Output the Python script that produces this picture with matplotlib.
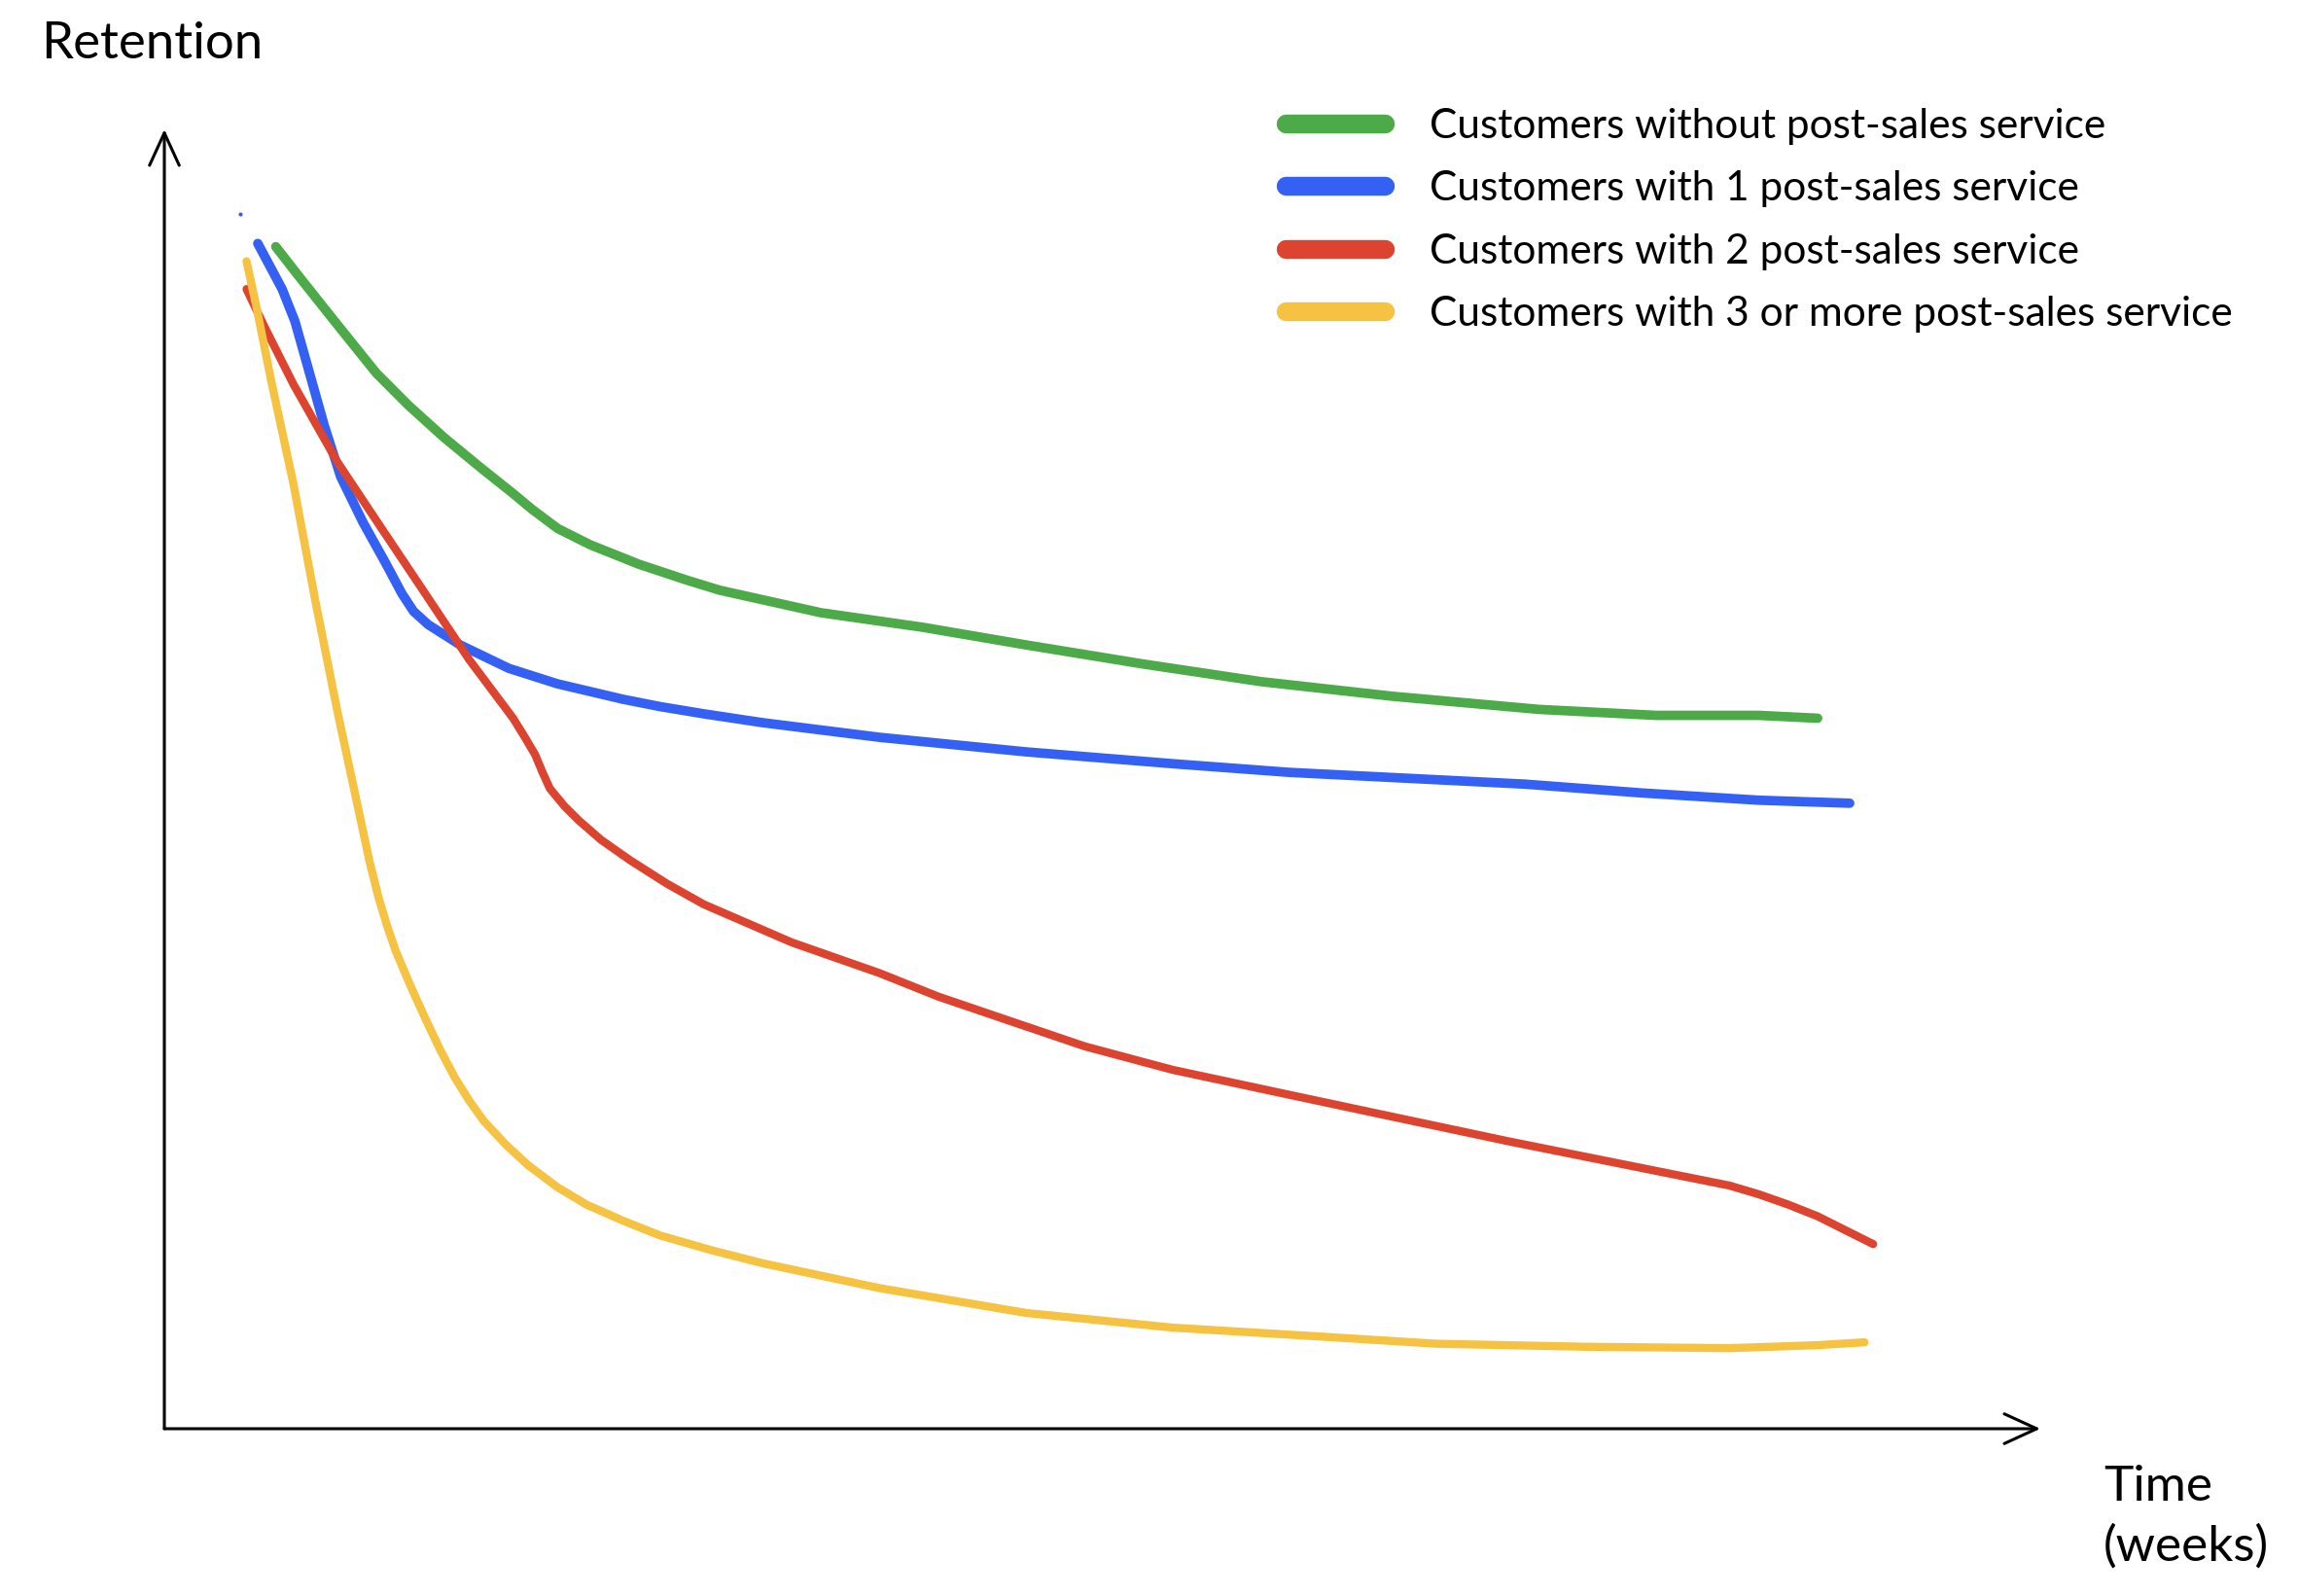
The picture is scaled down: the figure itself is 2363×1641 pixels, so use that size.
import matplotlib
matplotlib.use("Agg")
import matplotlib.pyplot as plt
from matplotlib.lines import Line2D

plt.rcParams['font.family'] = ['Lato', 'DejaVu Sans']

# time axis runs 0..100 (arbitrary weeks), retention 0..100
green_x = [5.94, 7.15, 8.53, 9.91, 11.30, 13.02, 14.93, 16.82, 18.55, 19.59, 20.97, 22.70,
           25.30, 27.89, 29.61, 35.0, 40.47, 45.94, 52.19, 58.44, 65.47, 73.28, 79.53, 85.0, 88.13]
green_y = [90.97, 88.73, 86.22, 83.73, 81.24, 78.75, 76.26, 74.01, 72.02, 70.77, 69.28, 68.03,
           66.53, 65.29, 64.53, 62.80, 61.67, 60.32, 58.85, 57.50, 56.37, 55.36, 54.90, 54.90, 54.68]

blue_x = [4.98, 6.28, 6.96, 7.69, 8.52, 9.40, 10.59, 11.83, 12.66, 13.28, 14.06, 15.77, 18.36,
          20.95, 24.45, 26.41, 28.75, 31.88, 38.13, 45.94, 53.75, 60.0, 66.25, 72.5, 78.75,
          85.0, 89.84]
blue_y = [91.22, 87.70, 85.23, 81.49, 77.23, 73.26, 69.75, 66.53, 64.28, 62.91, 61.89, 60.32,
          58.52, 57.33, 56.14, 55.58, 55.02, 54.34, 53.21, 52.09, 51.18, 50.51, 50.06, 49.61,
          48.93, 48.37, 48.14]

red_x = [4.38, 5.31, 6.88, 9.22, 11.56, 13.91, 16.25, 18.59, 19.22, 19.77, 20.16, 20.55, 21.33,
         22.11, 23.28, 24.84, 26.80, 28.75, 31.09, 33.44, 38.13, 41.25, 45.16, 49.06, 53.75,
         59.22, 65.47, 71.72, 77.97, 83.44, 85.0, 86.56, 88.13, 89.69, 91.09]
red_y = [87.71, 84.89, 80.38, 74.41, 69.33, 64.26, 59.19, 54.68, 53.21, 51.86, 50.51, 49.27, 47.91,
         46.79, 45.32, 43.74, 41.94, 40.36, 38.90, 37.43, 35.06, 33.26, 31.34, 29.43, 27.62,
         25.93, 24.01, 22.10, 20.29, 18.71, 18.04, 17.25, 16.35, 15.22, 14.21]

yellow_x = [4.38, 4.92, 5.70, 6.88, 8.05, 9.22, 10.39, 10.94, 11.41, 11.88, 12.34, 13.13, 13.91,
            14.69, 15.47, 16.25, 17.03, 18.20, 19.38, 20.94, 22.5, 24.45, 26.41, 29.14, 31.88,
            38.13, 45.94, 53.75, 61.56, 67.81, 75.63, 83.44, 88.13, 90.63]
yellow_y = [89.85, 86.25, 80.61, 72.72, 63.70, 55.24, 47.35, 43.63, 40.92, 38.67, 36.75, 34.05,
            31.57, 29.20, 27.06, 25.25, 23.68, 21.87, 20.29, 18.60, 17.25, 16.01, 14.88, 13.75,
            12.74, 10.82, 8.91, 7.78, 7.10, 6.54, 6.31, 6.20, 6.43, 6.65]

stray_dot = (4.06, 93.46)

labels = ["Customers without post-sales service",
          "Customers with 1 post-sales service",
          "Customers with 2 post-sales service",
          "Customers with 3 or more post-sales service"]
colors = ["#4caa48", "#3461f4", "#dc4430", "#f5c242"]
widths = [7, 7, 6, 6]

W, H = 2363, 1641
fig = plt.figure(figsize=(W / 100, H / 100), dpi=100)
ax = fig.add_axes([169 / W, 172 / H, (2098 - 169) / W, (1469 - 133) / H])
ax.set_xlim(0, 100)
ax.set_ylim(0, 100)
ax.axis('off')

# hand-drawn style axes with open arrow heads
arrow = dict(arrowstyle='->,head_length=1.2,head_width=0.55', lw=2.2, color='black',
             mutation_scale=20, shrinkA=0, shrinkB=0)
ax.annotate('', xy=(1, 0), xytext=(0, 0), xycoords='axes fraction', arrowprops=arrow)
ax.annotate('', xy=(0, 1), xytext=(0, 0), xycoords='axes fraction', arrowprops=arrow)

series = [(green_x, green_y), (blue_x, blue_y), (red_x, red_y), (yellow_x, yellow_y)]
for (xs, ys), col, lw in zip(series, colors, widths):
    ax.plot(xs, ys, color=col, lw=lw, solid_capstyle='round', solid_joinstyle='round')
ax.plot([stray_dot[0]], [stray_dot[1]], 'o', color=colors[1], ms=3, mew=0)

handles = [Line2D([0], [0], color=c, lw=14, solid_capstyle='round') for c in colors]
fig.legend(handles, labels, loc='upper left', bbox_to_anchor=(1322 / W, 1 - 111 / H),
           frameon=False, fontsize=30.5, handlelength=2.4, handletextpad=1.1,
           labelspacing=0.62, borderpad=0, borderaxespad=0)

fig.text(42 / W, 1 - 46 / H, "Retention", fontsize=38, ha='left', va='center')
fig.text(2163 / W, 1 - 1560 / H, "Time\n(weeks)", fontsize=37, ha='left', va='center',
         linespacing=1.4)

fig.savefig("out.png", dpi=100)
